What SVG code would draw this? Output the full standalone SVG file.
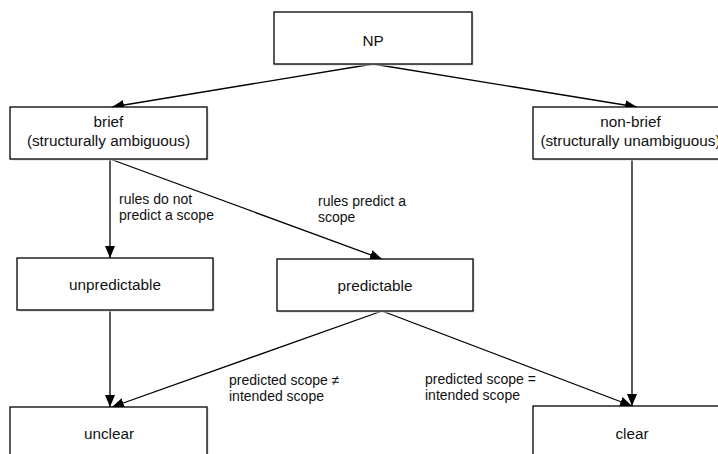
<svg xmlns="http://www.w3.org/2000/svg" width="718" height="454" viewBox="0 0 718 454">
<defs>
<style>
.box{fill:#fff;stroke:#000;stroke-width:1.3}
.sh{fill:#d6d6d6}
.t{font-family:"Liberation Sans",Arial,sans-serif;font-size:15.3px;fill:#111;text-anchor:middle}
.l{font-family:"Liberation Sans",Arial,sans-serif;font-size:14px;fill:#111}
.c{fill:none;stroke:#000;stroke-width:1.3;marker-end:url(#ah)}
</style>
<marker id="ah" markerUnits="userSpaceOnUse" markerWidth="12" markerHeight="10" refX="12" refY="5" orient="auto">
<path d="M0,0 L12,5 L0,10 Z" fill="#000"/>
</marker>
</defs>
<rect width="718" height="454" fill="#fff"/>
<g id="connectors">
<line class="c" x1="373" y1="64" x2="112" y2="107"/>
<line class="c" x1="373" y1="64" x2="637" y2="107"/>
<line class="c" x1="110" y1="159" x2="110" y2="258"/>
<line class="c" x1="110" y1="159" x2="382" y2="259"/>
<line class="c" x1="632" y1="159" x2="632" y2="406"/>
<line class="c" x1="110" y1="311" x2="110" y2="407"/>
<line class="c" x1="382" y1="311" x2="112" y2="407"/>
<line class="c" x1="382" y1="311" x2="632" y2="406"/>
<text class="l" x="119" y="204">rules do not</text>
<text class="l" x="119" y="220">predict a scope</text>
<text class="l" x="318" y="206">rules predict a</text>
<text class="l" x="318" y="222">scope</text>
<text class="l" x="229" y="385">predicted scope ≠</text>
<text class="l" x="229" y="401">intended scope</text>
<text class="l" x="425" y="384">predicted scope =</text>
<text class="l" x="425" y="400">intended scope</text>
</g>
<g id="np">
<rect class="sh" x="275.5" y="13.5" width="198" height="52"/>
<rect class="box" x="274" y="12" width="198" height="52"/>
<text class="t" x="373" y="46">NP</text>
</g>
<g id="brief">
<rect class="sh" x="11.5" y="108.5" width="197" height="52"/>
<rect class="box" x="10" y="107" width="197" height="52"/>
<text class="t" x="108.5" y="127">brief</text>
<text class="t" x="108.5" y="146">(structurally ambiguous)</text>
</g>
<g id="nonbrief">
<rect class="sh" x="534.5" y="108.5" width="197" height="52"/>
<rect class="box" x="533" y="107" width="197" height="52"/>
<text class="t" x="630.5" y="127">non-brief</text>
<text class="t" x="630.5" y="146">(structurally unambiguous)</text>
</g>
<g id="unpredictable">
<rect class="sh" x="18.5" y="259.5" width="196" height="52"/>
<rect class="box" x="17" y="258" width="196" height="52"/>
<text class="t" x="115" y="290">unpredictable</text>
</g>
<g id="predictable">
<rect class="sh" x="278.5" y="260.5" width="196" height="52"/>
<rect class="box" x="277" y="259" width="196" height="52"/>
<text class="t" x="375" y="291">predictable</text>
</g>
<g id="unclear">
<rect class="sh" x="11.5" y="408.5" width="197" height="52"/>
<rect class="box" x="10" y="407" width="197" height="52"/>
<text class="t" x="109" y="439">unclear</text>
</g>
<g id="clear">
<rect class="sh" x="534.5" y="407.5" width="197" height="52"/>
<rect class="box" x="533" y="406" width="197" height="52"/>
<text class="t" x="632" y="439">clear</text>
</g>
</svg>
